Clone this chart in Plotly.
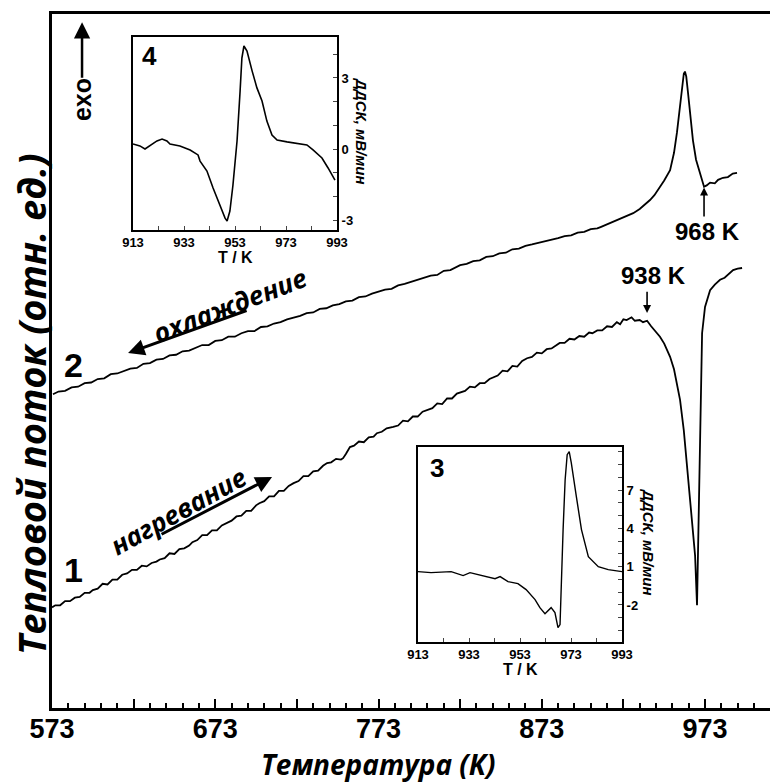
import plotly.graph_objects as go

# ---------------- main DSC curves (T in K, heat flow in arb. units) ----------------
heat_T = [573.0, 575, 578, 581, 584, 587, 590, 593, 596, 598, 601, 604, 607, 610, 613, 616, 619,
          622, 625, 628, 631, 634, 637, 639, 642, 645, 648, 651, 654, 657, 659, 662, 665, 668, 671,
          674, 677, 680, 683, 686, 689, 692, 695, 698, 700, 703, 706, 709, 712, 715, 718, 721, 724,
          727, 730, 733, 736, 739, 741.5, 744, 747, 750, 751.3, 753, 755.5, 758, 761, 764, 767, 770,
          772, 775, 778, 782, 785, 788, 791, 794, 797, 800, 803, 806, 809, 812, 815, 818, 821, 823,
          826, 829, 832, 835, 838, 841, 843, 846, 849, 852, 855, 858, 861, 864, 867, 870, 873, 876,
          879, 882, 884, 887, 890, 893, 896, 899, 902, 904, 907, 910, 913, 916, 919, 921, 923, 925,
          928, 930, 933, 935, 937.5, 940, 942, 945.4, 948, 951.6, 954, 957.7, 960, 962, 964, 965,
          965.6, 966.9, 968.1, 968.7, 969.3, 969.9, 971.2, 973, 976.1, 979, 982.2, 985, 988, 990.2,
          993, 995.7]
heat_Q = [14.5, 14.8, 14.8, 15.4, 15.4, 15.9, 16.0, 16.6, 16.6, 17.0, 17.2, 17.9, 17.8, 18.5, 18.5,
          19.2, 19.4, 19.9, 19.9, 20.5, 20.4, 20.9, 21.1, 21.4, 21.6, 22.3, 22.2, 22.9, 23.0, 23.4,
          23.9, 24.2, 24.9, 24.9, 25.6, 25.6, 26.3, 26.6, 27.0, 27.6, 27.7, 28.4, 28.4, 29.2, 29.5,
          29.8, 30.5, 30.5, 31.3, 31.3, 32.0, 32.4, 32.7, 33.4, 33.4, 34.1, 34.2, 34.9, 35.3, 35.4,
          35.9, 35.8, 36.0, 36.6, 37.6, 37.8, 38.4, 38.3, 39.0, 39.1, 39.6, 39.8, 40.3, 40.5, 40.7,
          41.4, 41.3, 42.0, 42.0, 42.7, 42.9, 43.2, 43.9, 43.8, 44.6, 44.6, 45.3, 45.5, 45.7, 46.3,
          46.2, 46.8, 46.8, 47.4, 47.6, 47.9, 48.6, 48.5, 49.3, 49.2, 50.0, 50.4, 50.6, 51.2, 51.1,
          51.7, 51.8, 52.3, 52.6, 52.6, 53.2, 53.1, 53.6, 53.5, 54.1, 54.0, 54.4, 54.4, 55.0, 54.9,
          55.6, 55.3, 56.0, 55.9, 56.3, 55.8, 55.9, 55.6, 55.8, 55.0, 54.4, 53.5, 52.5, 50.6, 48.8,
          44.4, 40.0, 34.7, 30.0, 27.5, 26.1, 22.0, 14.8, 22.0, 30.0, 41.9, 54.0, 57.8, 60.2, 61.0,
          61.7, 62.0, 62.7, 63.1, 63.3, 63.4]

cool_T = [573.6, 577, 581, 585, 589, 593, 597, 601, 605, 609, 613, 617, 621, 625, 629, 633, 637,
          641, 645, 649, 653, 657, 661, 665, 669, 673, 677, 681, 685, 689, 693, 697, 701, 705, 709,
          713, 717, 721, 725, 729, 733, 737, 741, 745, 749, 753, 757, 761, 765, 769, 773, 777, 781,
          785, 789, 793, 797, 801, 805, 809, 813, 817, 821, 823, 827, 831, 835, 839, 843, 847, 851,
          855, 859, 863, 867, 871, 875, 879, 883, 887, 891, 895, 899, 903, 907, 909, 913, 917, 921,
          925, 929, 933, 936, 939.3, 942, 945.4, 948, 951.6, 954, 955.8, 957.5, 958.9, 960, 960.7,
          961.5, 962.6, 964, 965.6, 967.5, 969.9, 971, 972.4, 974, 976.1, 979, 981, 984, 987, 990,
          992.6]
cool_Q = [45.2, 45.6, 45.7, 46.2, 46.3, 46.8, 46.9, 47.4, 47.5, 48.1, 48.2, 48.5, 48.9, 49.0, 49.6,
          49.7, 50.2, 50.3, 50.8, 50.9, 51.4, 51.5, 51.9, 52.3, 52.3, 52.9, 53.0, 53.5, 53.5, 54.0,
          54.3, 54.3, 54.9, 55.0, 55.4, 55.6, 56.0, 56.2, 56.5, 56.9, 57.0, 57.5, 57.6, 58.0, 58.2,
          58.6, 58.7, 59.2, 59.3, 59.7, 60.0, 60.3, 60.4, 60.9, 61.1, 61.4, 61.7, 62.0, 62.3, 62.4,
          63.0, 63.1, 63.6, 63.8, 64.0, 64.4, 64.5, 65.0, 65.1, 65.5, 65.6, 66.1, 66.2, 66.6, 66.8,
          67.0, 67.3, 67.5, 67.7, 68.0, 68.1, 68.5, 68.6, 69.0, 69.1, 69.3, 69.7, 70.2, 70.5, 70.9,
          71.3, 71.9, 72.5, 73.2, 73.9, 75.1, 76.0, 77.5, 80.0, 82.9, 86.5, 90.0, 91.4, 91.7, 91.0,
          88.6, 85.0, 81.8, 79.0, 77.1, 76.2, 75.1, 75.3, 75.7, 75.6, 76.1, 76.4, 76.5, 77.0, 77.1]

# ---------------- inset 4 (cooling DDSC) ----------------
ins4_T = [913, 915.7, 917.7, 919.7, 922.4, 924.4, 926.3, 927.5, 931.4, 935.4, 938.5, 939.3, 942,
          944.4, 947.1, 949.1, 949.9, 951, 952.2, 953.8, 955, 955.7, 956.5, 957.7, 959.7, 961.6,
          963.6, 965.5, 967.5, 969.5, 973.4, 977.3, 981.2, 983.6, 987.1, 989.5, 992.2]
ins4_V = [0.21, 0.13, 0.0, 0.13, 0.34, 0.42, 0.34, 0.21, 0.13, -0.04, -0.25, -0.51, -0.93, -1.65,
          -2.37, -2.92, -3.04, -2.62, -1.52, 0.34, 2.45, 3.84, 4.35, 4.14, 3.3, 2.58, 2.03, 1.18,
          0.59, 0.38, 0.30, 0.25, 0.17, -0.04, -0.38, -0.80, -1.31]

# ---------------- inset 3 (heating DDSC) ----------------
ins3_T = [913, 918.1, 926, 930.7, 933.4, 936.5, 943.2, 945.2, 948.3, 952.2, 955.4, 958.9, 960.8,
          962.8, 965.2, 966.7, 967.9, 968.7, 969.1, 969.9, 970.7, 971.5, 972.3, 973.1, 975.1,
          977.1, 979.8, 983.7, 987.6, 991.6, 993]
ins3_V = [0.61, 0.53, 0.61, 0.30, 0.53, 0.37, 0.06, 0.22, -0.17, -0.33, -0.80, -1.58, -2.21, -2.68,
          -2.21, -2.60, -3.78, -3.54, -0.57, 3.90, 7.81, 9.77, 10.0, 9.14, 6.48, 3.90, 1.78, 1.0,
          0.77, 0.61, 0.61]

main_ticks = [573, 623, 673, 723, 773, 823, 873, 923, 973]
main_ticktext = ["573", "", "673", "", "773", "", "873", "", "973"]
ins_xticks = [913, 923, 933, 943, 953, 963, 973, 983, 993]
ins_xtext = ["913", "", "933", "", "953", "", "973", "", "993"]
ins4_yticks = [-3, -2, -1, 0, 1, 2, 3, 4]
ins4_ytext = ["-3", "", "", "0", "", "", "3", ""]
ins3_yticks = [-4, -3, -2, -1, 0, 1, 2, 3, 4, 5, 6, 7, 8, 9, 10]
ins3_ytext = ["", "", "-2", "", "", "1", "", "", "4", "", "", "7", "", "", ""]

BOLD = dict(family="Liberation Sans, Arial, sans-serif", color="black", weight="bold")
TITLE = "Open Sans, Roboto, sans-serif"

fig = go.Figure()
fig.add_trace(go.Scatter(x=heat_T, y=heat_Q, mode="lines", line=dict(color="black", width=1.8),
                         showlegend=False, xaxis="x", yaxis="y"))
fig.add_trace(go.Scatter(x=cool_T, y=cool_Q, mode="lines", line=dict(color="black", width=1.8),
                         showlegend=False, xaxis="x", yaxis="y"))
fig.add_trace(go.Scatter(x=ins4_T, y=ins4_V, mode="lines", line=dict(color="black", width=1.6),
                         showlegend=False, xaxis="x2", yaxis="y2"))
fig.add_trace(go.Scatter(x=ins3_T, y=ins3_V, mode="lines", line=dict(color="black", width=1.4),
                         showlegend=False, xaxis="x3", yaxis="y3"))

W, H = 770, 782
L, R, T, B = 52, 0, 14, 74
PW, PH = W - L - R, H - T - B


def px(xp):
    return (xp - L) / PW


def py(yp):
    return (H - B - yp) / PH


fig.update_layout(
    width=W, height=H, margin=dict(l=L, r=R, t=T, b=B, autoexpand=False),
    paper_bgcolor="white", plot_bgcolor="white",
    xaxis=dict(range=[573, 1012.8], tickmode="array", tickvals=main_ticks, ticktext=main_ticktext,
               ticks="inside", ticklen=9, tickwidth=2, tickcolor="black",
               minor=dict(ticks="inside", dtick=10, tick0=573, ticklen=5, tickwidth=1.5,
                          tickcolor="black", showgrid=False),
               showline=True, linewidth=3, linecolor="black", mirror=True, automargin=False,
               showgrid=False, zeroline=False, tickfont=dict(size=27, **BOLD), domain=[0, 1],
               ticklabelstandoff=-5),
    yaxis=dict(range=[0, 100], showline=True, linewidth=3, linecolor="black", automargin=False,
               showticklabels=False, ticks="", showgrid=False, zeroline=False, domain=[0, 1]),
    xaxis2=dict(domain=[px(133), px(337)], anchor="y2", range=[913, 993], tickmode="array",
                tickvals=ins_xticks, ticktext=ins_xtext, ticks="inside", ticklen=4, tickwidth=1.2,
                showline=True, linewidth=2, linecolor="black", mirror=True, showgrid=False,
                zeroline=False, tickfont=dict(size=13, **BOLD), ticklabelstandoff=-1,
                automargin=False),
    yaxis2=dict(domain=[py(230), py(37)], anchor="x2", side="right", range=[-3.42, 4.73],
                tickmode="array", tickvals=ins4_yticks, ticktext=ins4_ytext, ticks="inside",
                ticklen=4, tickwidth=1.2, showline=True, linewidth=2, linecolor="black",
                mirror=True, showgrid=False, zeroline=False, tickfont=dict(size=13, **BOLD),
                automargin=False),
    xaxis3=dict(domain=[px(418), px(622)], anchor="y3", range=[913, 993], tickmode="array",
                tickvals=ins_xticks, ticktext=ins_xtext, ticks="inside", ticklen=4, tickwidth=1.2,
                showline=True, linewidth=2, linecolor="black", mirror=True, showgrid=False,
                zeroline=False, tickfont=dict(size=13, **BOLD), ticklabelstandoff=-1,
                automargin=False),
    yaxis3=dict(domain=[py(642), py(447)], anchor="x3", side="right", range=[-4.9, 10.37],
                tickmode="array", tickvals=ins3_yticks, ticktext=ins3_ytext, ticks="inside",
                ticklen=4, tickwidth=1.2, showline=True, linewidth=2, linecolor="black",
                mirror=True, showgrid=False, zeroline=False, tickfont=dict(size=13, **BOLD),
                automargin=False),
)

C = dict(xanchor="center", yanchor="middle", showarrow=False)
ann = []
# axis titles
ann.append(dict(text="Температура (K)", xref="paper", yref="paper", x=px(378), y=py(764),
                font=dict(family=TITLE, size=28, color="black", weight="bold",
                          style="italic"), **C))
ann.append(dict(text="Тепловой поток (отн. ед.)", xref="paper", yref="paper", x=px(31), y=py(404),
                textangle=-90,
                font=dict(family=TITLE, size=38, color="black", weight="bold", style="italic"),
                **C))
# curve numbers
ann.append(dict(text="1", x=585.9, y=19.9, xref="x", yref="y", font=dict(size=34, **BOLD), **C))
ann.append(dict(text="2", x=585.9, y=49.4, xref="x", yref="y", font=dict(size=34, **BOLD), **C))
# exo arrow
ann.append(dict(text="exo", x=591.4, y=87.6, xref="x", yref="y", textangle=-90,
                font=dict(size=25, **BOLD), **C))
ann.append(dict(text="", x=591.4, y=98.8, ax=591.4, ay=90.6, xref="x", yref="y", axref="x",
                ayref="y", showarrow=True, arrowhead=2, arrowsize=1.3, arrowwidth=2.5,
                arrowcolor="black", standoff=0))
# direction labels
ann.append(dict(text="охлаждение", x=682.0, y=58.1, xref="x", yref="y", textangle=-21,
                font=dict(family=TITLE, size=26, color="black", style="italic", weight="bold"),
                **C))
ann.append(dict(text="", x=619.6, y=51.15, ax=693.1, ay=57.35, xref="x", yref="y", axref="x",
                ayref="y", showarrow=True, arrowhead=2, arrowsize=1.1, arrowwidth=3,
                arrowcolor="black", standoff=0))
ann.append(dict(text="нагревание", x=650.2, y=28.4, xref="x", yref="y", textangle=-29,
                font=dict(family=TITLE, size=26, color="black", style="italic", weight="bold"),
                **C))
ann.append(dict(text="", x=707.8, y=33.29, ax=639.2, ay=24.93, xref="x", yref="y", axref="x",
                ayref="y", showarrow=True, arrowhead=2, arrowsize=1.1, arrowwidth=3,
                arrowcolor="black", standoff=0))
# temperature markers
ann.append(dict(text="938 K", x=941.2, y=62.25, xref="x", yref="y", font=dict(size=24, **BOLD),
                **C))
ann.append(dict(text="", x=937.5, y=56.9, ax=937.5, ay=60.2, xref="x", yref="y", axref="x",
                ayref="y", showarrow=True, arrowhead=2, arrowsize=1, arrowwidth=1.6,
                arrowcolor="black", standoff=0))
ann.append(dict(text="968 K", x=974.8, y=68.6, xref="x", yref="y", font=dict(size=24, **BOLD),
                **C))
ann.append(dict(text="", x=972.4, y=75.0, ax=972.4, ay=70.6, xref="x", yref="y", axref="x",
                ayref="y", showarrow=True, arrowhead=2, arrowsize=1, arrowwidth=1.6,
                arrowcolor="black", standoff=0))
# inset labels
ann.append(dict(text="4", xref="paper", yref="paper", x=px(149), y=py(56),
                font=dict(size=26, **BOLD), **C))
ann.append(dict(text="3", xref="paper", yref="paper", x=px(437), y=py(468),
                font=dict(size=26, **BOLD), **C))
ann.append(dict(text="T / K", xref="paper", yref="paper", x=px(235), y=py(257),
                font=dict(size=16, **BOLD), **C))
ann.append(dict(text="T / K", xref="paper", yref="paper", x=px(520), y=py(669),
                font=dict(size=16, **BOLD), **C))
ann.append(dict(text="ДДСК, мВ/мин", xref="paper", yref="paper", x=px(362), y=py(130),
                textangle=90,
                font=dict(family="Liberation Sans, Arial", size=15, color="black", weight="bold",
                          style="italic"), **C))
ann.append(dict(text="ДДСК, мВ/мин", xref="paper", yref="paper", x=px(649), y=py(541),
                textangle=90,
                font=dict(family="Liberation Sans, Arial", size=15, color="black", weight="bold",
                          style="italic"), **C))
fig.update_layout(annotations=ann)

fig.write_html("out.html", config={"displayModeBar": False},
               post_script="document.body.style.margin='0px';document.body.style.padding='0px';")
